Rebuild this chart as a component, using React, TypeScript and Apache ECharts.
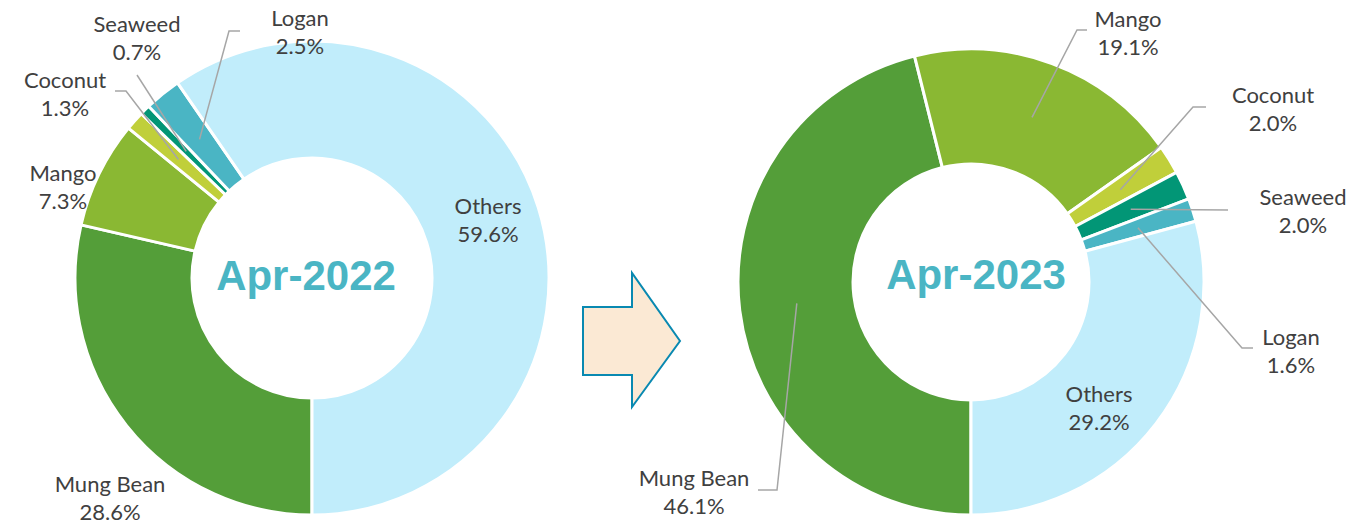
import React, { useEffect, useRef } from "react";
import * as echarts from "echarts";

// ---- data ----
const categories = ["Mung Bean", "Mango", "Coconut", "Seaweed", "Logan", "Others"];
const share2022 = [28.6, 7.3, 1.3, 0.7, 2.5, 59.6];
const share2023 = [46.1, 19.1, 2.0, 2.0, 1.6, 29.2];
const periods = ["Apr-2022", "Apr-2023"];

// ---- style / layout ----
const colors = ["#549E39", "#8AB833", "#C0CF3A", "#029676", "#4AB5C4", "#C1EDFB"];
const pies = [
  { cx: 312, cy: 278, r0: 120, r1: 237, tx: 306, ty: 275 },
  { cx: 971, cy: 282, r0: 118, r1: 233, tx: 976, ty: 274 },
];
type Lbl = { at: [number, number]; line?: [number, number][] };
const labelLayouts: Lbl[][] = [
  [
    { at: [-202, 219] },
    { at: [-249, -92] },
    { at: [-247, -185], line: [[-186, -187], [-197, -187]] },
    { at: [-175, -241], line: [[-175, -203], [-175, -203]] },
    { at: [-12, -247], line: [[-83, -247], [-72, -247]] },
    { at: [176, -59] },
  ],
  [
    { at: [-277, 209], line: [[-194, 208], [-213, 208]] },
    { at: [157, -250], line: [[106, -252], [116, -252]] },
    { at: [302, -174], line: [[222, -175], [235, -175]] },
    { at: [332, -72], line: [[257, -72], [257, -72]] },
    { at: [320, 68], line: [[271, 66], [282, 66]] },
    { at: [128, 125] },
  ],
];
const arrowPts: [number, number][] = [
  [583, 307], [632, 307], [632, 273], [680, 341], [632, 407], [632, 375], [583, 375],
];

function midAngle(values: number[], i: number) {
  const total = values.reduce((a, b) => a + b, 0);
  let cum = 0;
  for (let j = 0; j < i; j++) cum += values[j];
  // clockwise from 12 o'clock, starting at 6 o'clock
  return Math.PI + (2 * Math.PI * (cum + values[i] / 2)) / total;
}

function baseSeries(values: number[], k: number) {
  const P = pies[k];
  return {
    type: "pie",
    z: 2,
    center: [P.cx, P.cy],
    radius: [P.r0, P.r1],
    startAngle: 270,
    clockwise: true,
    silent: true,
    emphasis: { disabled: true },
    itemStyle: { borderColor: "#ffffff", borderWidth: 3 },
    label: { show: false },
    labelLine: { show: false },
    data: categories.map((name, i) => ({
      name,
      value: values[i],
      itemStyle: { color: colors[i] },
    })),
  };
}

function labelSeries(values: number[], k: number) {
  const P = pies[k];
  return {
    type: "pie",
    z: 5,
    center: [P.cx, P.cy],
    radius: [P.r0, P.r1],
    startAngle: 270,
    clockwise: true,
    avoidLabelOverlap: false,
    silent: true,
    emphasis: { disabled: true },
    itemStyle: { color: "rgba(0,0,0,0)", borderWidth: 0 },
    label: {
      show: true,
      position: "outside",
      formatter: (p: any) => `${p.name}\n${Number(p.value).toFixed(1)}%`,
      fontFamily: "Lato",
      fontSize: 22,
      lineHeight: 28,
      color: "#404040",
      align: "center",
    },
    labelLine: { show: true, lineStyle: { color: "#A6A6A6", width: 1.5 } },
    labelLayout: (params: any) => {
      const i = params.dataIndex;
      const L = labelLayouts[k][i];
      const res: any = {
        x: P.cx + L.at[0],
        y: P.cy + L.at[1],
        align: "center",
        verticalAlign: "middle",
      };
      if (L.line) {
        const a = midAngle(values, i);
        const rm = (P.r0 + P.r1) / 2;
        res.labelLinePoints = [
          [P.cx + rm * Math.sin(a), P.cy - rm * Math.cos(a)],
          [P.cx + L.line[0][0], P.cy + L.line[0][1]],
          [P.cx + L.line[1][0], P.cy + L.line[1][1]],
        ];
      }
      return res;
    },
    data: categories.map((name, i) => ({
      name,
      value: values[i],
      labelLine: { show: !!labelLayouts[k][i].line },
    })),
  };
}

export default function App() {
  const ref = useRef<HTMLDivElement>(null);
  useEffect(() => {
    if (!ref.current) return;
    const chart = echarts.init(ref.current, undefined, { renderer: "svg" });
    chart.setOption({
      animation: false,
      backgroundColor: "#ffffff",
      series: [
        baseSeries(share2022, 0),
        baseSeries(share2023, 1),
        labelSeries(share2022, 0),
        labelSeries(share2023, 1),
      ],
      graphic: [
        ...periods.map((t, k) => ({
          type: "text",
          x: pies[k].tx,
          y: pies[k].ty,
          z: 10,
          style: {
            text: t,
            font: 'bold 42px "Liberation Sans", Arial, sans-serif',
            fill: "#4AB5C4",
            align: "center",
            verticalAlign: "middle",
            textAlign: "center",
            textVerticalAlign: "middle",
          },
        })),
        {
          type: "polygon",
          shape: { points: arrowPts },
          style: { fill: "#FBE9D4", stroke: "#0989B1", lineWidth: 2 },
        },
      ],
    });
    return () => chart.dispose();
  }, []);
  return (
    <div
      ref={ref}
      style={{ position: "absolute", left: 0, top: 0, width: 1349, height: 523 }}
    />
  );
}
